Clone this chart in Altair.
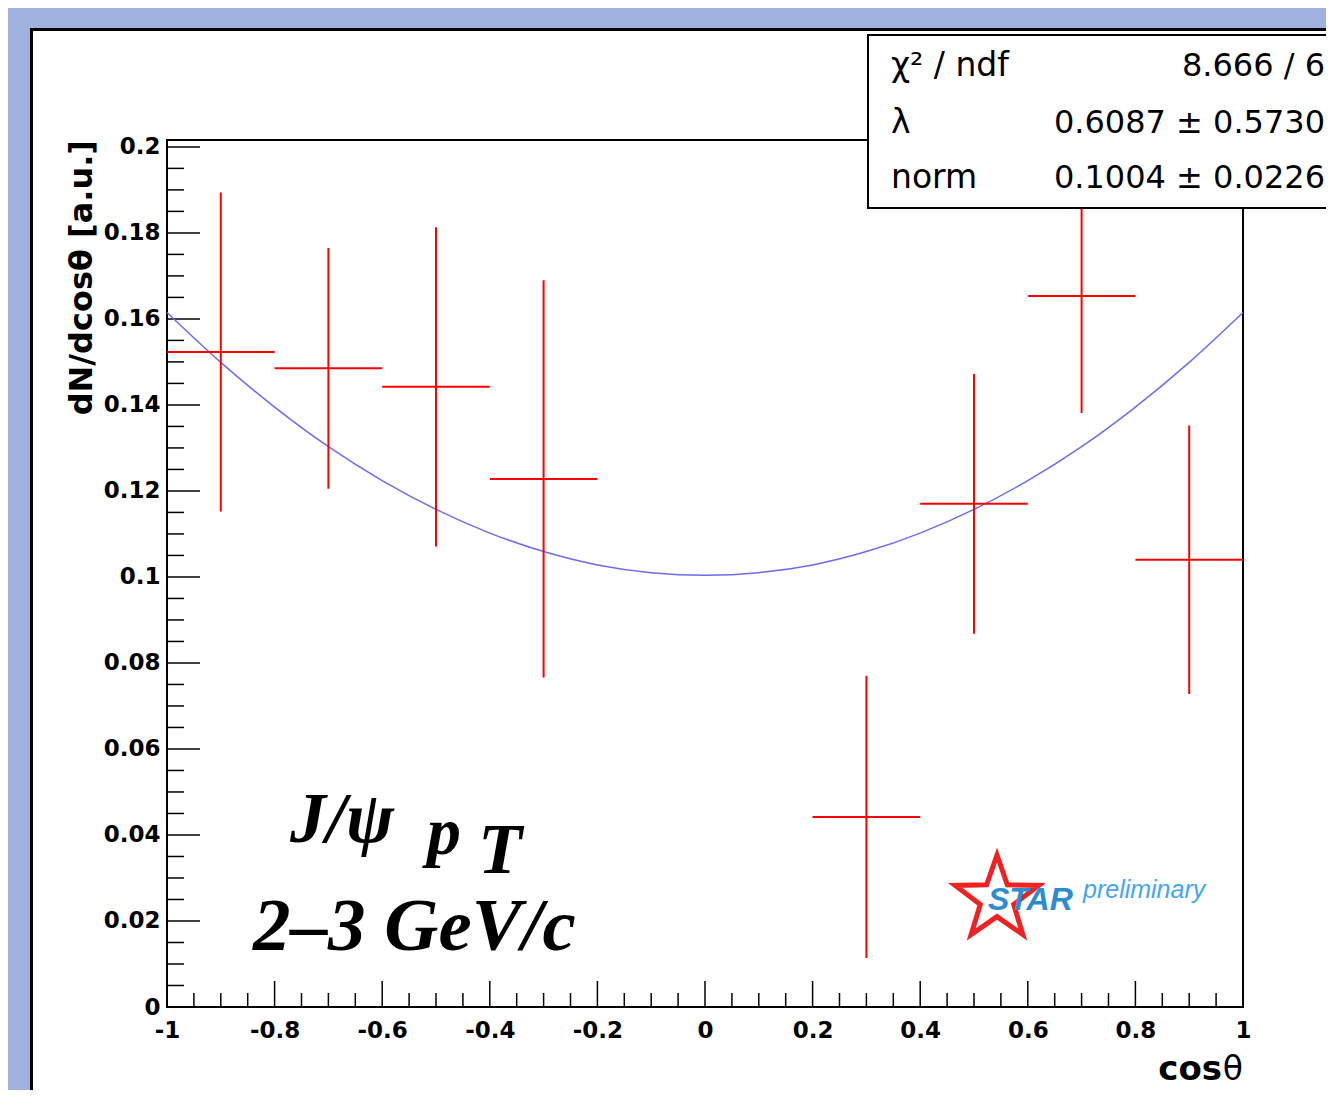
import altair as alt
import pandas as pd

# ---- data ----
cos_center = [-0.9, -0.7, -0.5, -0.3, 0.3, 0.5, 0.7, 0.9]
dn_value = [0.1523, 0.1485, 0.1442, 0.1228, 0.0442, 0.1170, 0.1653, 0.1040]
dn_error = [0.0371, 0.0280, 0.0371, 0.0462, 0.0328, 0.0302, 0.0272, 0.0312]
half_bin = 0.1

fit_x = [-1.0, -0.9, -0.8, -0.7, -0.6, -0.5, -0.4, -0.3, -0.2, -0.1, 0.0,
         0.1, 0.2, 0.3, 0.4, 0.5, 0.6, 0.7, 0.8, 0.9, 1.0]
fit_y = [0.1615, 0.1499, 0.1395, 0.1303, 0.1224, 0.1157, 0.1102, 0.1059, 0.1028, 0.1010, 0.1004,
         0.1010, 0.1028, 0.1059, 0.1102, 0.1157, 0.1224, 0.1303, 0.1395, 0.1499, 0.1615]

x_major = [-1, -0.8, -0.6, -0.4, -0.2, 0, 0.2, 0.4, 0.6, 0.8, 1]
x_minor = [-0.95, -0.9, -0.85, -0.75, -0.7, -0.65, -0.55, -0.5, -0.45, -0.35, -0.3, -0.25,
           -0.15, -0.1, -0.05, 0.05, 0.1, 0.15, 0.25, 0.3, 0.35, 0.45, 0.5, 0.55,
           0.65, 0.7, 0.75, 0.85, 0.9, 0.95]
y_major = [0, 0.02, 0.04, 0.06, 0.08, 0.1, 0.12, 0.14, 0.16, 0.18, 0.2]
y_minor = [0.005, 0.01, 0.015, 0.025, 0.03, 0.035, 0.045, 0.05, 0.055, 0.065, 0.07, 0.075,
           0.085, 0.09, 0.095, 0.105, 0.11, 0.115, 0.125, 0.13, 0.135, 0.145, 0.15, 0.155,
           0.165, 0.17, 0.175, 0.185, 0.19, 0.195]

stats_labels = ["χ² / ndf", "λ", "norm"]
stats_values = ["8.666 / 6", "0.6087 ± 0.5730", "0.1004 ± 0.0226"]
stats_baselines = [-64, -7, 48]

W, H = 1076, 867
SLIDE = "#a0b1e0"
xs = alt.Scale(domain=[-1, 1], nice=False, zero=False)
ys = alt.Scale(domain=[0, 0.2016], nice=False, zero=False)

one = pd.DataFrame({"a": [0]})
pts = pd.DataFrame({"cos": cos_center, "val": dn_value, "err": dn_error})
fit = pd.DataFrame({"x": fit_x, "y": fit_y})


def box(x, x2, y, y2, **kw):
    return alt.Chart(one).mark_rect(**kw).encode(
        x=alt.value(x), x2=alt.value(x2), y=alt.value(y), y2=alt.value(y2))


strip_left = box(-170, -137, -140, 1100, fill=SLIDE)
strip_top = box(-170, 1300, -140, -112, fill=SLIDE)
panel_border = box(-135.5, 1300, -110.5, 1100, fillOpacity=0, stroke="black", strokeWidth=3)
frame = box(0, W, 0, H, fillOpacity=0, stroke="black", strokeWidth=2)


def xticks(vals, length):
    return alt.Chart(pd.DataFrame({"t": vals})).mark_rule(color="black", strokeWidth=1.5).encode(
        x=alt.X("t:Q", scale=xs, axis=None), y=alt.value(H), y2=alt.value(H - length))


def yticks(vals, length):
    return alt.Chart(pd.DataFrame({"t": vals})).mark_rule(color="black", strokeWidth=1.5).encode(
        y=alt.Y("t:Q", scale=ys, axis=None), x=alt.value(0), x2=alt.value(length))


fit_line = alt.Chart(fit).mark_line(color="#6c6cf0", strokeWidth=1.5, interpolate="monotone").encode(
    x=alt.X("x:Q", scale=xs, axis=None), y=alt.Y("y:Q", scale=ys, axis=None))

vbars = alt.Chart(pts).transform_calculate(
    lo="datum.val - datum.err", hi="datum.val + datum.err"
).mark_rule(color="#ff0000", strokeWidth=2).encode(
    x=alt.X("cos:Q", scale=xs, axis=alt.Axis(
        values=x_major, labelExpr="'' + datum.value", ticks=False, domain=False, grid=False,
        title=None, labelFont="DejaVu Sans", labelFontWeight="bold", labelFontSize=23,
        labelColor="black", labelPadding=12, labelFlush=False, labelOverlap=False, zindex=2)),
    y=alt.Y("lo:Q", scale=ys, axis=alt.Axis(
        values=y_major, labelExpr="'' + datum.value", ticks=False, domain=False, grid=False,
        title=None, labelFont="DejaVu Sans", labelFontWeight="bold", labelFontSize=23,
        labelColor="black", labelPadding=7, labelFlush=False, labelOverlap=False, zindex=2)),
    y2="hi:Q")

hbars = alt.Chart(pts).transform_calculate(
    xlo="datum.cos - %g" % half_bin, xhi="datum.cos + %g" % half_bin
).mark_rule(color="#ff0000", strokeWidth=2).encode(
    x=alt.X("xlo:Q", scale=xs, axis=None), x2="xhi:Q", y=alt.Y("val:Q", scale=ys, axis=None))


def label(text, x, y, **kw):
    return alt.Chart(pd.DataFrame({"t": [text]})).mark_text(**kw).encode(
        text="t:N", x=alt.value(x), y=alt.value(y))


ytitle = label("dN/dcosθ [a.u.]", -85, 0, angle=270, align="right", baseline="middle",
               font="DejaVu Sans", fontWeight="bold", fontSize=32, color="black")
xtitle_cos = label("cos", W - 21, 940, align="right", baseline="alphabetic",
                   font="DejaVu Sans", fontWeight="bold", fontSize=34, color="black")
xtitle_theta = label("θ", W, 940, align="right", baseline="alphabetic",
                     font="DejaVu Sans", fontSize=33, color="black")

serif = dict(font="Liberation Serif", fontWeight="bold", fontStyle="italic", color="black",
             align="left", baseline="alphabetic")
ann1 = label("J/ψ", 123, 702, fontSize=72, **serif)
ann2 = label("p", 260, 714, fontSize=68, **serif)
ann3 = label("T", 311, 733, fontSize=72, **serif)
ann4 = label("2–3 GeV/c", 86, 810, fontSize=75, **serif)

star_path = ("M0,-1 L0.235,-0.324 L0.951,-0.309 L0.380,0.124 L0.588,0.809 L0,0.4 "
             "L-0.588,0.809 L-0.380,0.124 L-0.951,-0.309 L-0.235,-0.324 Z")
star = alt.Chart(one).mark_point(shape=star_path, size=7744, filled=False, stroke="#ee2222",
                                 strokeWidth=5, opacity=1).encode(
    x=alt.value(830), y=alt.value(759))
star_txt = label("STAR", 821, 770, font="Liberation Sans", fontWeight="bold", fontStyle="italic",
                 fontSize=32, color="#2b8dcf", align="left", baseline="alphabetic")
prelim_txt = label("preliminary", 916, 758, font="Liberation Sans", fontStyle="italic",
                   fontSize=25, color="#44a4f4", align="left", baseline="alphabetic")

stats_box = box(701, 1300, -105, 68, fill="white", stroke="black", strokeWidth=2)
stats_layers = []
for lab, val, by in zip(stats_labels, stats_values, stats_baselines):
    stats_layers.append(label(lab, 724, by, font="DejaVu Sans", fontSize=33, color="black",
                              align="left", baseline="alphabetic"))
    stats_layers.append(label(val, 1158, by, font="DejaVu Sans", fontSize=32, color="black",
                              align="right", baseline="alphabetic"))

chart = alt.layer(
    strip_left, strip_top, panel_border, frame,
    xticks(x_major, 26), xticks(x_minor, 14), yticks(y_major, 33), yticks(y_minor, 17),
    fit_line, vbars, hbars,
    ytitle, xtitle_cos, xtitle_theta, ann1, ann2, ann3, ann4,
    star, star_txt, prelim_txt,
    stats_box, *stats_layers,
).resolve_axis(x="independent", y="independent").properties(
    width=W, height=H,
    padding={"left": 159, "top": 132, "right": 83, "bottom": 83},
    autosize=alt.AutoSizeParams(type="none"),
    background="white",
).configure_view(strokeWidth=0)

chart.save("out.html", embed_options={"renderer": "svg", "actions": False})
